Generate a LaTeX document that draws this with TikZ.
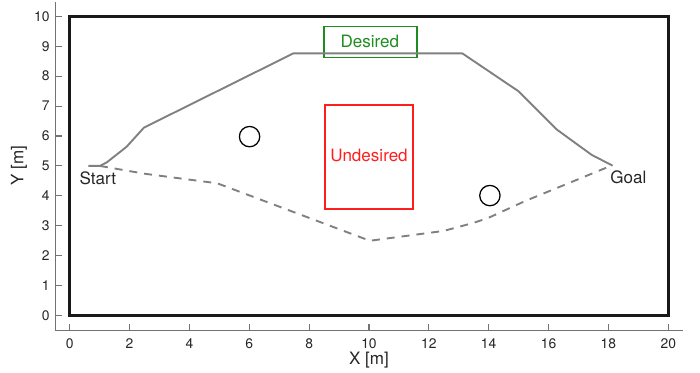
\documentclass[tikz,border=0pt]{standalone}
\usepackage{fontspec}
\setmainfont{TeX Gyre Heros}
\usetikzlibrary{positioning}
\definecolor{pathgrey}{RGB}{128,128,128}
\definecolor{axisgrey}{RGB}{115,115,115}
\definecolor{labelink}{RGB}{38,38,38}
\definecolor{okgreen}{RGB}{30,140,30}
\definecolor{badred}{RGB}{255,30,30}
\tikzset{
  axln/.style   ={draw=axisgrey,line width=0.5pt},
  ticklbl/.style={font=\fontsize{6.6}{8}\selectfont,text=labelink,inner sep=0pt},
  axlbl/.style  ={font=\fontsize{8.1}{10}\selectfont,text=labelink,inner sep=0pt},
  route/.style  ={draw=pathgrey,line width=0.9pt,line join=round},
  altroute/.style={route,dash pattern=on 3.8pt off 3.3pt},
  obst/.style   ={draw=black,line width=0.6pt},
  wall/.style   ={draw=black!90,line width=1.3pt},
  zone/.style   ={line width=0.8pt,inner sep=0pt},
}

\begin{document}
\begin{tikzpicture}[x=0.5cm,y=0.5cm]
\useasboundingbox (-2.329,-1.914) rectangle (21.06,10.545);
% axes
\draw[axln] (-0.49,10.48) -- (-0.49,-0.514) -- (20.49,-0.514);
\foreach \x in {0,2,...,20} {
  \draw[axln] (\x,-0.514) -- ++(0,0.23);
  \node[ticklbl,anchor=base] (xt\x) at (\x,-1.09) {\x};
}
\foreach \y in {0,...,10} {
  \draw[axln] (-0.49,\y) -- ++(0.23,0);
  \node[ticklbl,anchor=east] (yt\y) at (-0.658,\y) {\y};
}
\node[axlbl,anchor=base] (xlab) at (10,-1.647) {X [m]};
\node[axlbl,anchor=base,rotate=90] (ylab) at (-1.55,5) {Y [m]};

% arena
\draw[wall] (0,0) rectangle (20,10);

% regions
\draw[zone,draw=okgreen] (8.49,8.62) rectangle (11.6,9.66);
\node[axlbl,text=okgreen] (desired) at (10.03,9.15) {Desired};
\draw[zone,draw=badred] (8.54,3.57) rectangle (11.47,7.04);
\node[axlbl,text=badred] (undesired) at (10,5.35) {Undesired};

% obstacles
\draw[obst] (6.01,5.98) circle (0.34);
\draw[obst] (14.04,4.01) circle (0.34);

% routes
\draw[route] (0.62,5) -- (1.01,5) -- (1.24,5.12) -- (1.9,5.64) -- (2.48,6.28)
  -- (7.47,8.76) -- (13.12,8.76) -- (14.99,7.5) -- (16.27,6.22)
  -- (17.44,5.37) -- (18.14,5.01);
\draw[altroute] (1.01,5) -- (2.5,4.74) -- (4.93,4.42) -- (10.03,2.5)
  -- (12.5,2.83) -- (13.5,3.1) -- (14,3.27) -- (15.2,3.82) -- (18.12,5.02);

\node[axlbl,anchor=base west] (start) at (0.32,4.39) {Start};
\node[axlbl,anchor=base west] (goal) at (18.05,4.4) {Goal};
\end{tikzpicture}
\end{document}
